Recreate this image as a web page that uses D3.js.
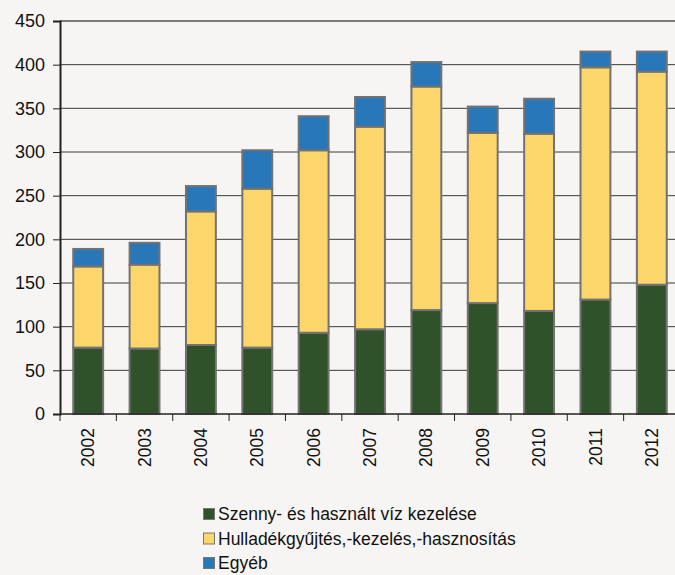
<!DOCTYPE html>
<html>
<head>
<meta charset="utf-8">
<script src="https://cdn.jsdelivr.net/npm/d3@7"></script>
<style>
  body { margin: 0; background: #f6f5f3; }
  svg { display: block; font-family: "Liberation Sans", Arial, sans-serif; }
</style>
</head>
<body>
<svg id="chart" width="675" height="575"></svg>
<script>
// years + the three stacked series
const years = ["2002","2003","2004","2005","2006","2007","2008","2009","2010","2011","2012"];
const szenny = [76, 75, 79, 76, 93, 97, 119, 127, 118, 131, 148];
const hulladek = [93, 96, 153, 182, 209, 232, 256, 195, 203, 266, 244];
const egyeb = [20, 25, 29, 44, 39, 34, 28, 30, 40, 18, 23];
const seriesNames = ["Szenny- és használt víz kezelése", "Hulladékgyűjtés,-kezelés,-hasznosítás", "Egyéb"];
const colors = ["#30522a", "#fcd56b", "#2877b8"];
const yTicks = [0, 50, 100, 150, 200, 250, 300, 350, 400, 450];

const svg = d3.select("#chart");
const mLeft = 60, mRight = 680, mTop = 21, mBottom = 414;

const rows = years.map((y, i) => ({year: y, s0: szenny[i], s1: hulladek[i], s2: egyeb[i]}));
const layers = d3.stack().keys(["s0", "s1", "s2"])(rows);

const x = d3.scaleBand().domain(years).range([mLeft, mRight]).paddingInner(0.47).paddingOuter(0.235);
const y = d3.scaleLinear().domain([0, 450]).range([mBottom, mTop]);
const step = x.step();

// grid
svg.append("g")
  .selectAll("line")
  .data(yTicks.filter(d => d > 0))
  .join("line")
  .attr("x1", mLeft).attr("x2", 675)
  .attr("y1", d => y(d)).attr("y2", d => y(d))
  .attr("stroke", d => d == 450 ? "#7a7a7a" : "#3a3a3a")
  .attr("stroke-width", d => d == 450 ? 2 : 1);

// bars
svg.append("g")
  .selectAll("g")
  .data(layers)
  .join("g")
  .attr("fill", (d, i) => colors[i])
  .selectAll("rect")
  .data(d => d)
  .join("rect")
  .attr("x", d => x(d.data.year))
  .attr("width", x.bandwidth())
  .attr("y", d => y(d[1]))
  .attr("height", d => y(d[0]) - y(d[1]))
  .attr("stroke", "#727272")
  .attr("stroke-width", 2);

// y axis
const yAxis = svg.append("g")
  .attr("transform", `translate(${mLeft},0)`)
  .call(d3.axisLeft(y).tickValues(yTicks).tickSize(7).tickPadding(8));
yAxis.select(".domain").attr("stroke", "#222").attr("stroke-width", 2);
yAxis.selectAll(".tick line").attr("stroke", "#222");
yAxis.selectAll("text").attr("font-size", 18).attr("font-family", "Liberation Sans, Arial").attr("fill", "#111");

// x axis - ticks sit between the categories
const xAxis = svg.append("g").attr("transform", `translate(0,${mBottom})`);
xAxis.append("line").attr("x1", mLeft).attr("x2", 675).attr("stroke", "#222").attr("stroke-width", 1.5);
xAxis.selectAll("line.tk")
  .data(d3.range(years.length + 1))
  .join("line")
  .attr("class", "tk")
  .attr("x1", i => mLeft + i * step)
  .attr("x2", i => mLeft + i * step)
  .attr("y1", 0).attr("y2", 7)
  .attr("stroke", "#222");
xAxis.selectAll("text")
  .data(years)
  .join("text")
  .attr("transform", d => `translate(${x(d) + x.bandwidth() / 2},14) rotate(-90)`)
  .attr("text-anchor", "end")
  .attr("dy", "0.35em")
  .attr("font-size", 17.5)
  .attr("fill", "#111")
  .text(d => d);

// legend
const legend = svg.append("g").attr("transform", "translate(203,514)");
const item = legend.selectAll("g")
  .data(seriesNames)
  .join("g")
  .attr("transform", (d, i) => `translate(0,${i * 24.5})`);
item.append("rect")
  .attr("x", 0.5).attr("y", -5.5).attr("width", 11).attr("height", 11)
  .attr("fill", (d, i) => colors[i])
  .attr("stroke", "#777").attr("stroke-width", 1);
item.append("text")
  .attr("x", 15)
  .attr("dy", "0.35em")
  .attr("font-size", 17.5)
  .attr("fill", "#111")
  .text(d => d);
</script>
</body>
</html>
